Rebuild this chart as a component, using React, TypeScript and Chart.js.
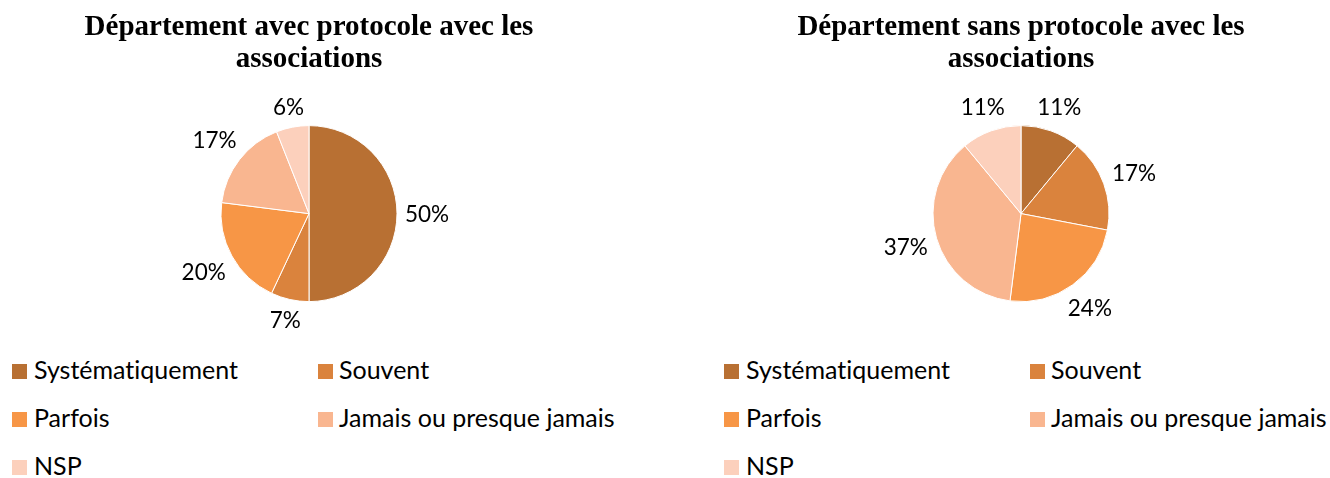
import React, { useEffect, useRef } from "react";
import { Chart, registerables } from "chart.js";

Chart.register(...registerables);

const categories = ["Systématiquement", "Souvent", "Parfois", "Jamais ou presque jamais", "NSP"];
const avecValues = [50, 7, 20, 17, 6];
const sansValues = [11, 17, 24, 37, 11];
const avecTitle = ["Département avec protocole avec les", "associations"];
const sansTitle = ["Département sans protocole avec les", "associations"];
const colors = ["#B87033", "#DA833D", "#F79646", "#F9B690", "#FCD0BC"];

const SANS = '"Lato", "Liberation Sans", sans-serif';
const SERIF = '"Liberation Serif", "Times New Roman", serif';
const LABEL_SIZE = 22.5;
const LEGEND_SIZE = 25;

const outsideLabels = {
  id: "outsideLabels",
  afterDatasetsDraw(chart: any) {
    const { ctx } = chart;
    const meta = chart.getDatasetMeta(0);
    const data = chart.data.datasets[0].data as number[];
    ctx.save();
    ctx.font = `${LABEL_SIZE}px ${SANS}`;
    ctx.fillStyle = "#000";
    ctx.textAlign = "center";
    ctx.textBaseline = "alphabetic";
    const capH = LABEL_SIZE * 0.72;
    meta.data.forEach((arc: any, i: number) => {
      const p = arc.getProps(["x", "y", "startAngle", "endAngle", "outerRadius"], true);
      const mid = (p.startAngle + p.endAngle) / 2;
      const text = `${data[i]}%`;
      const w = ctx.measureText(text).width;
      const h = capH + 4;
      const c = Math.cos(mid);
      const s = Math.sin(mid);
      const d = p.outerRadius + 8 + (Math.abs(c) * w) / 2 + (Math.abs(s) * h) / 2;
      const cx = p.x + c * d;
      const cy = p.y + s * d;
      ctx.fillText(text, cx, cy + capH / 2);
    });
    ctx.restore();
  },
};

function PieChart({ values, title }: { values: number[]; title: string[] }) {
  const ref = useRef<HTMLCanvasElement | null>(null);
  useEffect(() => {
    if (!ref.current) return;
    const chart = new Chart(ref.current, {
      type: "pie",
      data: {
        labels: categories,
        datasets: [
          {
            data: values,
            backgroundColor: colors,
            borderColor: "#ffffff",
            borderWidth: 1,
            radius: 88,
          } as any,
        ],
      },
      options: {
        responsive: false,
        animation: false,
        devicePixelRatio: 1,
        events: [],
        layout: { padding: 0 },
        plugins: {
          legend: { display: false },
          tooltip: { enabled: false },
          title: {
            display: true,
            text: title,
            color: "#000",
            font: { family: SERIF, size: 29, weight: "bold", lineHeight: 1.09 },
            padding: { top: 12, bottom: 0 },
          },
        },
      },
      plugins: [outsideLabels],
    });
    return () => chart.destroy();
  }, [values, title]);
  return <canvas ref={ref} width={618} height={352} style={{ display: "block" }} />;
}

const rowBaselines = [379, 427, 475];
const colSquareX = [12, 318];
const colTextX = [34, 339];

function Legend({ offsetX }: { offsetX: number }) {
  return (
    <>
      {categories.map((cat, i) => {
        const row = Math.floor(i / 2);
        const col = i % 2;
        const base = rowBaselines[row];
        return (
          <React.Fragment key={cat}>
            <div
              style={{
                position: "absolute",
                left: offsetX + colSquareX[col],
                top: base - 15,
                width: 15,
                height: 15,
                background: colors[i],
              }}
            />
            <div
              style={{
                position: "absolute",
                left: offsetX + colTextX[col],
                top: base - LEGEND_SIZE * 0.887,
                fontFamily: SANS,
                fontSize: LEGEND_SIZE,
                lineHeight: `${LEGEND_SIZE}px`,
                fontVariantLigatures: "none",
                color: "#000",
                whiteSpace: "nowrap",
              }}
            >
              {cat}
            </div>
          </React.Fragment>
        );
      })}
    </>
  );
}

export default function App() {
  return (
    <div
      style={{
        position: "absolute",
        left: 0,
        top: 0,
        width: 1330,
        height: 478,
        background: "#fff",
        overflow: "hidden",
      }}
    >
      <div style={{ position: "absolute", left: 0, top: 0 }}>
        <PieChart values={avecValues} title={avecTitle} />
      </div>
      <div style={{ position: "absolute", left: 712, top: 0 }}>
        <PieChart values={sansValues} title={sansTitle} />
      </div>
      <Legend offsetX={0} />
      <Legend offsetX={712} />
    </div>
  );
}
